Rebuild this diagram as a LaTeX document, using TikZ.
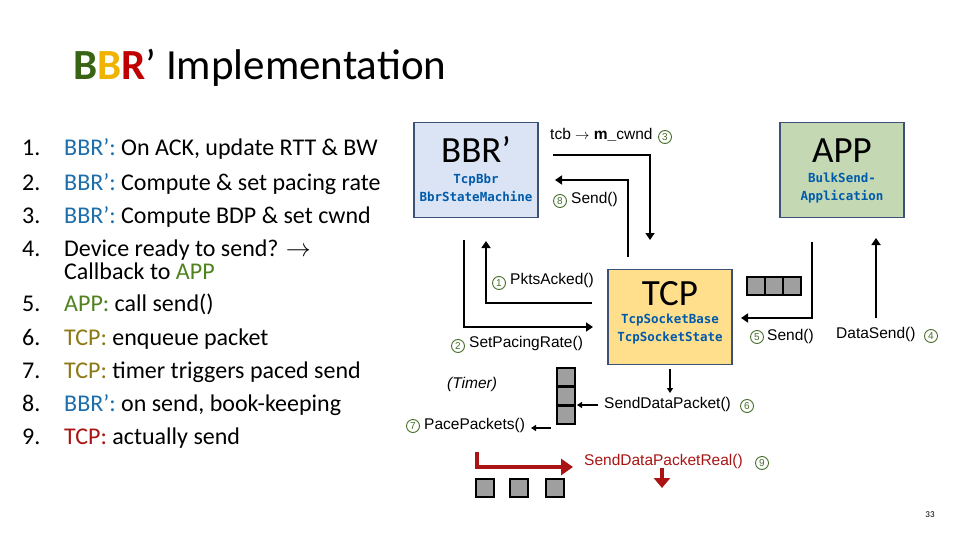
\documentclass[tikz,border=0pt]{standalone}
\usepackage{fontspec}
\setmainfont{Carlito}
\newfontfamily\dsans{Liberation Sans}
\newfontfamily\dmono{DejaVu Sans Mono}
\usetikzlibrary{arrows.meta}
\definecolor{bgreen}{RGB}{56,100,20}
\definecolor{byellow}{RGB}{240,180,0}
\definecolor{bred}{RGB}{192,0,0}
\definecolor{bblue}{RGB}{30,110,170}
\definecolor{agreen}{RGB}{80,130,30}
\definecolor{tcpc}{RGB}{140,120,20}
\definecolor{dred}{RGB}{170,20,20}
\definecolor{mblue}{RGB}{0,90,170}
\definecolor{cgreen}{RGB}{70,110,40}
\definecolor{bordc}{RGB}{60,80,120}
\definecolor{fbbr}{RGB}{218,228,244}
\definecolor{fapp}{RGB}{196,216,180}
\definecolor{ftcp}{RGB}{255,222,140}
\begin{document}
\begin{tikzpicture}[x=1pt,y=-1pt,
  item/.style={anchor=base west,font=\fontsize{24}{26}\selectfont,inner sep=0},
  box/.style={draw=bordc,line width=1.2pt,minimum width=124pt,minimum height=95pt},
  lab/.style={font=\dsans\fontsize{15.5}{17}\selectfont,inner sep=1pt},
  cn/.style={circle,draw=cgreen,line width=0.9pt,inner sep=0.3pt,minimum size=13pt,font=\dsans\fontsize{10}{10}\selectfont,text=cgreen},
  arr/.style={line width=2.5pt,-{Triangle[length=7pt,width=9pt]}},
  sarr/.style={line width=1.5pt,-{Triangle[length=5pt,width=6pt]}},
  pk/.style={draw=black,line width=1.2pt,fill=gray!75,minimum size=18pt,inner sep=0},
  big/.style={font=\fontsize{37}{37}\selectfont},
  code/.style={font=\dmono\bfseries\fontsize{12.5}{18}\selectfont,text=mblue,align=center}]
\path[use as bounding box,fill=white] (0,0) rectangle (960,540);
\node[anchor=base west,font=\fontsize{43}{45}\selectfont,inner sep=0] (title) at (73,80) {\textbf{\textcolor{bgreen}{B}\textcolor{byellow}{B}\textcolor{bred}{R}}’ Implementation};
\foreach \n/\y in {1/156,2/190,3/223,4/256,5/311,6/345,7/378,8/411,9/444}
  \node[item] (n\n) at (22,\y) {\n.};
\node[item] (i1) at (64,156) {\textcolor{bblue}{BBR’:} On ACK, update RTT \& BW};
\node[item] (i2) at (64,190) {\textcolor{bblue}{BBR’:} Compute \& set pacing rate};
\node[item] (i3) at (64,223) {\textcolor{bblue}{BBR’:} Compute BDP \& set cwnd};
\node[item] (i4) at (64,256) {Device ready to send? $\rightarrow$};
\node[item] (i4b) at (64,279) {Callback to \textcolor{agreen}{APP}};
\node[item] (i5) at (64,311) {\textcolor{agreen}{APP:} call send()};
\node[item] (i6) at (64,345) {\textcolor{tcpc}{TCP:} enqueue packet};
\node[item] (i7) at (64,378) {\textcolor{tcpc}{TCP:} timer triggers paced send};
\node[item] (i8) at (64,411) {\textcolor{bblue}{BBR’:} on send, book-keeping};
\node[item] (i9) at (64,444) {\textcolor{dred}{TCP:} actually send};
% boxes
\node[box,fill=fbbr] (bbr) at (476,170) {};
\node[big] (bbrt) at (476,149) {BBR’};
\node[code] (bbrc) at (476,188) {TcpBbr\\BbrStateMachine};
\node[box,fill=fapp] (app) at (842,170) {};
\node[big] (appt) at (842,151) {APP};
\node[code] (appc) at (842,188) {BulkSend-\\Application};
\node[box,fill=ftcp] (tcp) at (670,317) {};
\node[big] (tcpt) at (670,294) {TCP};
\node[code] (tcpc2) at (670,329) {TcpSocketBase\\TcpSocketState};
% coordinates
\coordinate (a1) at (553,155); \coordinate (a2) at (650,155); \coordinate (a3) at (650,240);
\coordinate (b1) at (628,257); \coordinate (b2) at (628,180); \coordinate (b3) at (555,180);
\coordinate (c1) at (464,240); \coordinate (c2) at (464,327); \coordinate (c3) at (593,327);
\coordinate (d1) at (592,303); \coordinate (d2) at (486,303); \coordinate (d3) at (486,241);
\coordinate (e1) at (812,242); \coordinate (e2) at (812,318); \coordinate (e3) at (741,318);
\coordinate (f1) at (876,318); \coordinate (f2) at (876,238);
\draw[arr] (a1) -- (a2) -- (a3);
\draw[arr] (b1) -- (b2) -- (b3);
\draw[arr] (c1) -- (c2) -- (c3);
\draw[arr] (d1) -- (d2) -- (d3);
\draw[arr] (e1) -- (e2) -- (e3);
\draw[arr] (f1) -- (f2);
% packets
\node[pk] (q1) at (756,286) {}; \node[pk] (q2) at (774,286) {}; \node[pk] (q3) at (792,286) {};
\node[pk] (v1) at (566,377) {}; \node[pk] (v2) at (566,396) {}; \node[pk] (v3) at (566,415) {};
\node[pk] (p1) at (485,488) {}; \node[pk] (p2) at (519,488) {}; \node[pk] (p3) at (555,488) {};
\coordinate (t1) at (670,369); \coordinate (t2) at (670,393);
\draw[sarr] (t1) -- (t2);
% labels
\node[lab,anchor=west] (l3) at (549,135) {tcb $\rightarrow$ \textbf{m\_}cwnd};
\node[cn] (c3n) at (665,137) {3};
\node[cn] (c8n) at (560,201) {8};
\node[lab,anchor=west] (l8) at (570,199) {Send()};
\node[cn] (c1n) at (499,283) {1};
\node[lab,anchor=west] (l1) at (509,280) {PktsAcked()};
\node[cn] (c2n) at (458,346) {2};
\node[lab,anchor=west] (l2) at (468,343) {SetPacingRate()};
\node[lab,anchor=west,font=\dsans\itshape\fontsize{15.5}{17}\selectfont] (tim) at (446,384) {(Timer)};
\node[cn] (c7n) at (413,426) {7};
\node[lab,anchor=west] (l7) at (423,425) {PacePackets()};
\node[lab,anchor=west] (l6) at (603,404) {SendDataPacket()};
\node[cn] (c6n) at (747,406) {6};
\node[cn] (c5n) at (757,337) {5};
\node[lab,anchor=west] (l5) at (766,336) {Send()};
\node[lab,anchor=west] (l4) at (835,334) {DataSend()};
\node[cn] (c4n) at (931,336) {4};
\node[lab,anchor=west,text=dred] (l9) at (583,461) {SendDataPacketReal()};
\node[cn] (c9n) at (762,463) {9};
\coordinate (g1) at (598,405); \coordinate (g2) at (577,405);
\coordinate (h1) at (551,428); \coordinate (h2) at (531,428);
\draw[sarr] (g1) -- (g2);
\draw[sarr] (h1) -- (h2);
\coordinate (r1) at (477,452); \coordinate (r2) at (477,467); \coordinate (r3) at (573,467);
\draw[line width=3.5pt,dred,-{Triangle[length=12pt,width=16pt]}] (r1) -- (r2) -- (r3);
\coordinate (s1) at (662,468); \coordinate (s2) at (662,488);
\draw[line width=3.5pt,dred,-{Triangle[length=10pt,width=16pt]}] (s1) -- (s2);
\node[font=\fontsize{9}{9}\selectfont] (pg) at (930,515) {33};
\end{tikzpicture}
\end{document}
